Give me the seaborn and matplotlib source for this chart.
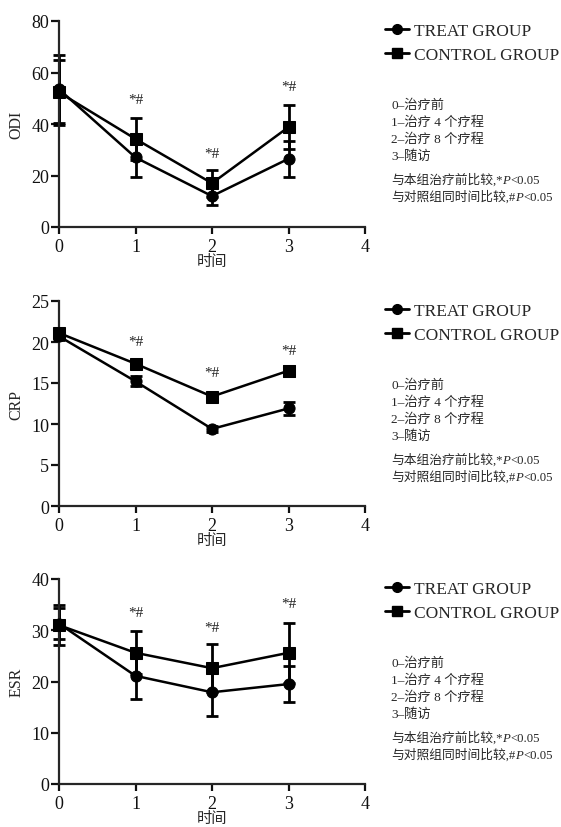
import matplotlib
matplotlib.use("Agg")
import matplotlib.pyplot as plt
import pandas as pd
import seaborn as sns
from matplotlib.lines import Line2D

times = [0, 1, 2, 3]
groups = ["TREAT GROUP", "CONTROL GROUP"]

odi_treat = [53.5, 27.0, 12.0, 26.5]
odi_treat_sd = [13.3, 7.5, 3.4, 7.0]
odi_control = [52.3, 34.2, 17.0, 38.8]
odi_control_sd = [12.6, 8.2, 5.2, 8.5]
odi_marks = [49.5, 28.5, 54.5]

crp_treat = [20.7, 15.2, 9.4, 11.9]
crp_treat_sd = [0.5, 0.6, 0.4, 0.8]
crp_control = [21.1, 17.35, 13.35, 16.5]
crp_control_sd = [0.5, 0.3, 0.4, 0.6]
crp_marks = [20.0, 16.3, 19.0]

esr_treat = [31.3, 21.1, 17.9, 19.5]
esr_treat_sd = [3.0, 4.5, 4.6, 3.5]
esr_control = [31.0, 25.6, 22.6, 25.6]
esr_control_sd = [3.9, 4.2, 4.7, 5.8]
esr_marks = [33.4, 30.6, 35.3]

notes = ["0\u2013治疗前", "1\u2013治疗 4 个疗程", "2\u2013治疗 8 个疗程", "3\u2013随访"]

sns.set_style("ticks")
plt.rcParams["font.family"] = ["Liberation Serif", "Noto Sans CJK SC"]
plt.rcParams["axes.linewidth"] = 1.6

fig = plt.figure(figsize=(5.61, 8.28), dpi=100)
W, H = 561, 828


def panel(top, bottom, name, treat, treat_sd, control, control_sd, marks, ymax, step):
    ax = fig.add_axes([59 / W, 1 - bottom / H, 306 / W, (bottom - top) / H])
    df = pd.DataFrame({
        "time": times * 2,
        "value": treat + control,
        "group": [groups[0]] * 4 + [groups[1]] * 4,
    })
    for vals, sd in [(treat, treat_sd), (control, control_sd)]:
        ax.errorbar(times, vals, yerr=sd, fmt="none", ecolor="black",
                    elinewidth=2, capsize=4, capthick=2, clip_on=False, zorder=2)
    sns.lineplot(data=df, x="time", y="value", hue="group", style="group",
                 markers={groups[0]: "o", groups[1]: "s"}, dashes=False,
                 palette={groups[0]: "black", groups[1]: "black"},
                 linewidth=1.8, markersize=8, markeredgecolor="black",
                 legend=False, ax=ax, clip_on=False, zorder=3)
    for x, y in zip(times[1:], marks):
        ax.text(x, y, "*#", ha="center", va="center", fontsize=11, color="#222222")
    ax.set_xlim(0, 4)
    ax.set_ylim(0, ymax)
    ax.set_xticks([0, 1, 2, 3, 4])
    ax.set_yticks(range(0, ymax + 1, step))
    ax.tick_params(labelsize=13, width=1.6, colors="#111111")
    ax.tick_params(axis="x", length=5, pad=3)
    ax.tick_params(axis="y", length=6, pad=1)
    ax.set_xlabel("时间", fontsize=11)
    ax.xaxis.set_label_coords(0.5, -27 / (bottom - top))
    ax.set_ylabel(name, fontsize=11.5, labelpad=5)
    sns.despine(ax=ax)

    handles = [Line2D([], [], color="black", marker=m, lw=2, ms=7) for m in ["o", "s"]]
    ax.legend(handles, groups, loc="upper left", frameon=False,
              bbox_to_anchor=(385 / W, 1 - (top + 2) / H), bbox_transform=fig.transFigure,
              fontsize=12.5, handlelength=1.4, handletextpad=0.25, labelspacing=0.45,
              borderaxespad=0, borderpad=0)

    off = top - 22
    for i, t in enumerate(notes):
        fig.text(391 / W, 1 - (106 + 17 * i + off) / H, t, fontsize=9.5, va="center")
    for y, pre, sym in [(184, "与本组治疗前比较,", "*"), (201, "与对照组同时间比较,", "#")]:
        t1 = fig.text(391 / W, 1 - (y + off) / H, pre + sym, fontsize=9.2, va="baseline")
        t2 = ax.annotate("P", xy=(1, 0), xycoords=t1, va="bottom", ha="left",
                         fontsize=9.2, style="italic")
        ax.annotate("<0.05", xy=(1, 0), xycoords=t2, va="bottom", ha="left", fontsize=9.2)


panel(22, 228, "ODI", odi_treat, odi_treat_sd, odi_control, odi_control_sd, odi_marks, 80, 20)
panel(302, 507, "CRP", crp_treat, crp_treat_sd, crp_control, crp_control_sd, crp_marks, 25, 5)
panel(580, 785, "ESR", esr_treat, esr_treat_sd, esr_control, esr_control_sd, esr_marks, 40, 10)

fig.savefig("out.png", dpi=100)
